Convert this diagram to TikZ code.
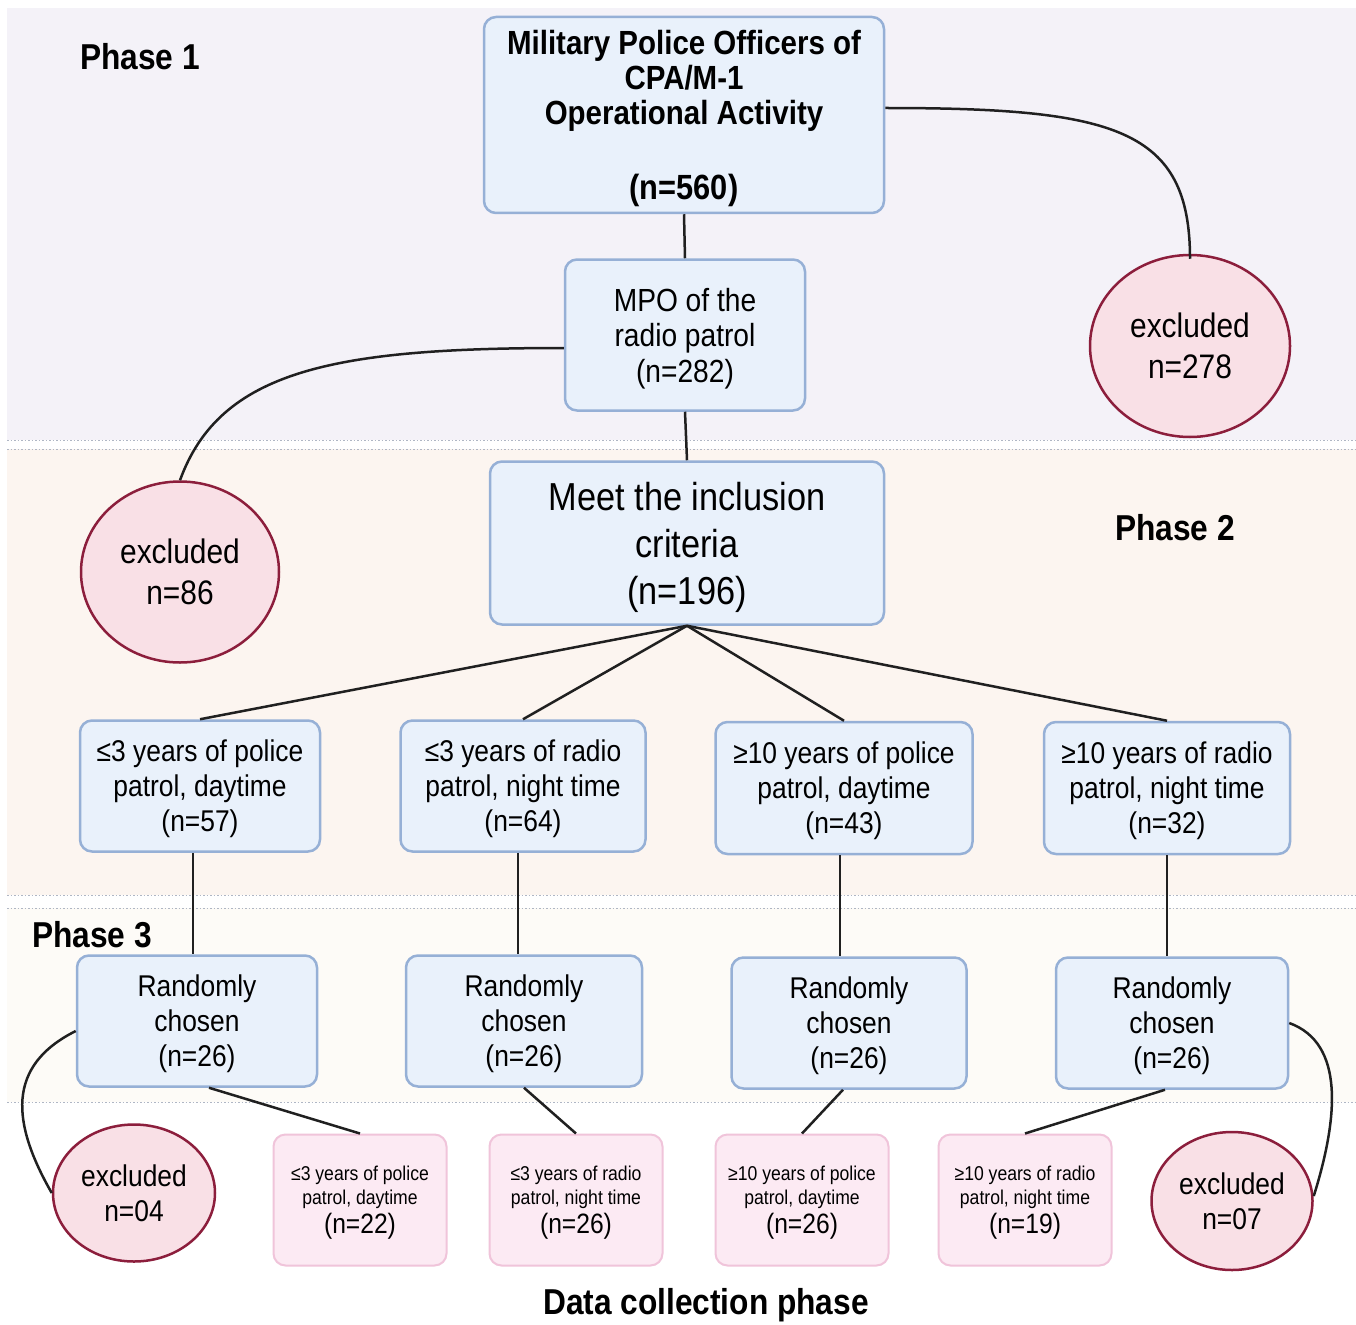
\documentclass[tikz,border=0pt]{standalone}
\usepackage{fontspec}
\setmainfont{Liberation Sans}[FakeStretch=0.88]
\usetikzlibrary{shapes.geometric,calc}
\definecolor{bgone}{RGB}{244,242,248}
\definecolor{bgtwo}{RGB}{252,245,240}
\definecolor{bgthree}{RGB}{253,251,247}
\definecolor{boxfill}{RGB}{233,241,251}
\definecolor{boxline}{RGB}{150,176,214}
\definecolor{pinkfill}{RGB}{252,234,243}
\definecolor{pinkline}{RGB}{240,196,218}
\definecolor{exfill}{RGB}{249,224,230}
\definecolor{exline}{RGB}{140,30,60}
\definecolor{conn}{RGB}{32,32,32}
\definecolor{dotcol}{RGB}{175,182,196}
\tikzset{
  bluebox/.style={draw=boxline, fill=boxfill, line width=2.5pt, rounded corners=12pt,
    inner sep=0pt, align=center, text depth=0pt, font={\fontsize{30}{35}\selectfont}},
  pinkbox/.style={draw=pinkline, fill=pinkfill, line width=2pt, rounded corners=12pt,
    inner sep=0pt, align=center, text depth=0pt, minimum width=173pt, minimum height=131pt,
    font={\fontsize{20}{24}\selectfont}},
  exnode/.style={ellipse, draw=exline, fill=exfill, line width=2.5pt, inner sep=0pt,
    align=center},
  conline/.style={draw=conn, line width=2.5pt},
  dotline/.style={draw=dotcol, line width=1pt, dash pattern=on 1.5pt off 2pt},
  phaselabel/.style={font={\fontsize{36}{40}\selectfont\bfseries}, inner sep=0pt}
}
\begin{document}
\begin{tikzpicture}[x=1pt,y=-1pt]
\useasboundingbox (0,0) rectangle (1356,1324);
\fill[white] (0,0) rectangle (1356,1324);
% backgrounds
\fill[bgone] (7,8) rectangle (1356,440);
\fill[bgtwo] (7,449) rectangle (1356,895);
\fill[bgthree] (7,908) rectangle (1356,1102);
\draw[dotline] (7,440) -- (1356,440);
\draw[dotline] (7,449) -- (1356,449);
\draw[dotline] (7,895) -- (1356,895);
\draw[dotline] (7,908) -- (1356,908);
\draw[dotline] (7,1102) -- (1356,1102);

% phase labels
\node[phaselabel, anchor=west] (ph1) at (80,57) {Phase 1};
\node[phaselabel, anchor=west] (ph2) at (1115,528) {Phase 2};
\node[phaselabel, anchor=west] (ph3) at (32,935) {Phase 3};
\node[phaselabel] (dcp) at (706,1305) {Data collection phase};

% main nodes
\node[bluebox, minimum width=400pt, minimum height=196pt, font={\fontsize{33.5}{35}\selectfont\bfseries}]
  (top) at (684,115) {Military Police Officers of\\CPA/M-1\\Operational Activity\\[40pt]{\fontsize{35}{35}\selectfont(n=560)}};
\node[bluebox, minimum width=240pt, minimum height=151pt, font={\fontsize{32}{35.5}\selectfont}]
  (mpo) at (685,335) {MPO of the\\radio patrol\\(n=282)};
\node[exnode, minimum width=200pt, minimum height=182pt, font={\fontsize{34}{41}\selectfont}]
  (ex278) at (1190,346) {excluded\\n=278};
\node[exnode, minimum width=198pt, minimum height=181pt, font={\fontsize{34}{41}\selectfont}]
  (ex86) at (180,572) {excluded\\n=86};
\node[bluebox, minimum width=394pt, minimum height=163pt, font={\fontsize{39}{47}\selectfont}]
  (meet) at (687,543) {Meet the inclusion\\criteria\\(n=196)};

% row of four groups
\node[bluebox, minimum width=240pt, minimum height=131pt] (r1) at (200,786)
  {≤3 years of police\\patrol, daytime\\(n=57)};
\node[bluebox, minimum width=245pt, minimum height=131pt] (r2) at (523,786)
  {≤3 years of radio\\patrol, night time\\(n=64)};
\node[bluebox, minimum width=257pt, minimum height=132pt] (r3) at (844,788)
  {≥10 years of police\\patrol, daytime\\(n=43)};
\node[bluebox, minimum width=246pt, minimum height=132pt] (r4) at (1167,788)
  {≥10 years of radio\\patrol, night time\\(n=32)};

% randomly chosen
\node[bluebox, minimum width=240pt, minimum height=131pt] (c1) at (197,1021)
  {Randomly\\chosen\\(n=26)};
\node[bluebox, minimum width=236pt, minimum height=131pt] (c2) at (524,1021)
  {Randomly\\chosen\\(n=26)};
\node[bluebox, minimum width=235pt, minimum height=131pt] (c3) at (849,1023)
  {Randomly\\chosen\\(n=26)};
\node[bluebox, minimum width=232pt, minimum height=131pt] (c4) at (1172,1023)
  {Randomly\\chosen\\(n=26)};

% data collection
\node[pinkbox] (p1) at (360,1200)
  {≤3 years of police\\patrol, daytime\\[4pt]{\fontsize{28}{28}\selectfont(n=22)}};
\node[pinkbox] (p2) at (576,1200)
  {≤3 years of radio\\patrol, night time\\[4pt]{\fontsize{28}{28}\selectfont(n=26)}};
\node[pinkbox] (p3) at (802,1200)
  {≥10 years of police\\patrol, daytime\\[4pt]{\fontsize{28}{28}\selectfont(n=26)}};
\node[pinkbox] (p4) at (1025,1200)
  {≥10 years of radio\\patrol, night time\\[4pt]{\fontsize{28}{28}\selectfont(n=19)}};
\node[exnode, minimum width=162pt, minimum height=137pt, font={\fontsize{30}{35}\selectfont}]
  (ex04) at (134,1193) {excluded\\n=04};
\node[exnode, minimum width=161pt, minimum height=138pt, font={\fontsize{30}{35}\selectfont}]
  (ex07) at (1232,1201) {excluded\\n=07};

% connectors
\draw[conline] (top.south) -- (mpo.north);
\draw[conline] (mpo.south) -- (meet.north);
\draw[conline] ([yshift=7pt]top.east) .. controls +(230,0) and +(0,-130) .. ([yshift=-5pt]ex278.north);
\draw[conline] ([yshift=-13pt]mpo.west) .. controls +(-230,0) and +(40,-110) .. (ex86.north);
\foreach \r in {r1,r2,r3,r4}{
  \draw[conline] (meet.south) -- (\r.north);
}
\draw[conline] ([xshift=-7pt]r1.south) -- ([xshift=-7pt]r1.south |- c1.north);
\draw[conline] ([xshift=-5pt]r2.south) -- ([xshift=-5pt]r2.south |- c2.north);
\draw[conline] ([xshift=-4pt]r3.south) -- ([xshift=-4pt]r3.south |- c3.north);
\draw[conline] (r4.south) -- (r4.south |- c4.north);
\draw[conline] ([xshift=12pt]c1.south) -- (p1.north);
\draw[conline] (c2.south) -- (p2.north);
\draw[conline] ([xshift=-6pt]c3.south) -- (p3.north);
\draw[conline] ([xshift=-7pt]c4.south) -- (p4.north);
\draw[conline] ([yshift=-10pt]c1.west) .. controls +(-70,35) and +(-40,-70) .. (ex04.west);
\draw[conline] (c4.east) .. controls +(55,20) and +(25,-80) .. ([yshift=5pt]ex07.east);
\end{tikzpicture}
\end{document}
